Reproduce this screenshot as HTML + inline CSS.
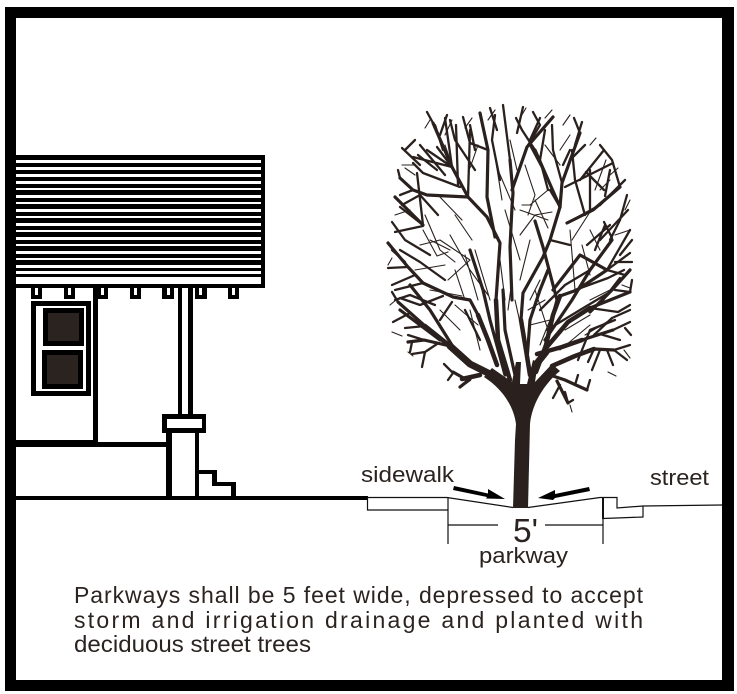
<!DOCTYPE html>
<html><head><meta charset="utf-8"><style>html,body{margin:0;padding:0;background:#fff}svg{display:block}text{font-family:"Liberation Sans",sans-serif;fill:#2a2320}</style></head>
<body>
<svg width="737" height="694" viewBox="0 0 737 694" xmlns="http://www.w3.org/2000/svg">
<rect width="737" height="694" fill="#fff"/>
<!-- house -->
<rect x="16" y="155" width="249" height="133" fill="#000"/>
<rect x="16" y="277" width="245" height="7" fill="#fff"/>
<g fill="#fff">
<rect x="16" y="160" width="245" height="3"/><rect x="16" y="167" width="245" height="3"/><rect x="16" y="174" width="245" height="3"/><rect x="16" y="181" width="245" height="3"/><rect x="16" y="188" width="245" height="2"/><rect x="16" y="195" width="245" height="3"/><rect x="16" y="202" width="245" height="2"/><rect x="16" y="209" width="245" height="3"/><rect x="16" y="216" width="245" height="2"/><rect x="16" y="223" width="245" height="3"/><rect x="16" y="230" width="245" height="2"/><rect x="16" y="237" width="245" height="3"/><rect x="16" y="244" width="245" height="2"/><rect x="16" y="251" width="245" height="3"/><rect x="16" y="258" width="245" height="2"/><rect x="16" y="265" width="245" height="3"/><rect x="16" y="271" width="245" height="3"/>
</g>
<g fill="#000">
<rect x="31" y="288" width="11" height="11"/><rect x="64" y="288" width="11" height="11"/><rect x="97" y="288" width="11" height="11"/><rect x="130" y="288" width="11" height="11"/><rect x="162" y="288" width="12" height="11"/><rect x="195" y="288" width="12" height="11"/><rect x="228" y="288" width="11" height="11"/>
<rect x="93" y="288" width="5" height="155"/>
<rect x="16" y="440" width="82" height="7"/><rect x="98" y="442" width="69" height="5"/>
<rect x="178" y="288" width="15" height="127"/>
<rect x="162" y="414" width="44" height="19"/>
<rect x="166" y="433" width="33" height="64"/>
<rect x="16" y="496" width="352" height="4"/>
<rect x="195" y="470" width="22" height="4"/><rect x="212" y="470" width="5" height="16"/><rect x="212" y="482" width="24" height="4"/><rect x="231" y="482" width="5" height="15"/>
<rect x="31" y="301" width="60" height="95"/>
</g>
<g fill="#fff">
<rect x="35" y="288" width="3" height="7"/><rect x="68" y="288" width="3" height="7"/><rect x="101" y="288" width="3" height="7"/><rect x="134" y="288" width="3" height="7"/><rect x="167" y="288" width="3" height="7"/><rect x="199" y="288" width="3" height="7"/><rect x="232" y="288" width="3" height="7"/>
<rect x="182" y="288" width="6" height="126"/>
<rect x="167" y="419" width="35" height="9"/>
<rect x="172" y="433" width="23" height="63"/>
<rect x="199" y="474" width="13" height="22"/><rect x="212" y="486" width="19" height="10"/>
<rect x="36" y="306" width="50" height="85"/>
</g>
<rect x="45.500" y="310.500" width="36" height="33" fill="#2b2320" stroke="#000" stroke-width="5"/>
<rect x="44.500" y="352.500" width="36" height="34" fill="#2b2320" stroke="#000" stroke-width="5"/>
<!-- ground -->
<g fill="none" stroke="#111" stroke-width="1.200">
<path d="M368 497.500H447L513 507.500"/>
<path d="M367.500 497V510H448"/>
<path d="M448 497V544"/>
<path d="M448 525H498M545 525H603"/>
<path d="M528 507.500L600 497.500H617V508L643 506L722 505"/>
<path d="M603 497V544"/>
<path d="M603 518.500L643 517V506"/>
</g>
<rect x="602" y="497" width="2" height="22" fill="#111"/>
<!-- arrows -->
<path d="M454 486L488 493.500L488 489L505 499L486 498.500L487 497L453 490Z" fill="#000"/>
<path d="M589 487L555 494L555 490L538 498L553 500L555 498L590 491Z" fill="#000"/>
<!-- tree -->
<path d="M513 508L515 440L516 424C514 408 504 390 484 377L492 368L512 382L516 362L521 362L520 384L527 384L533 360L538 362L535 382L552 364L560 371C544 384 532 404 530 424L528 508Z" fill="#2a211e"/>
<g fill="none" stroke="#2a211e" stroke-linecap="round" stroke-linejoin="round">
<g stroke-width="7">
<path d="M490 374L470 364L450 346"/>
<path d="M538 362L546 352"/>
</g>
<g stroke-width="4.500">
<path d="M450 346L425 326"/>
<path d="M510 380L498 340L496 300"/>
<path d="M530 375L526 350L521 320"/>
<path d="M536 372L546 345L553 315L560 296"/>
<path d="M537 354L562 347L582 340"/>
<path d="M497 365L488 340L478 315"/>
<path d="M552 366L575 356L594 349"/>
<path d="M480 375L462 379"/>
<path d="M546 348L568 322L590 308"/>
</g>
<g stroke-width="3.200">
<path d="M496 300L500 243L487 217L468 197L452 167"/>
<path d="M478 315L470 300L453 297L423 283"/>
<path d="M425 326L398 302"/>
<path d="M582 340L613 330"/>
<path d="M590 308L630 292"/>
<path d="M594 349L614 350"/>
<path d="M450 346L424 340L408 342"/>
<path d="M521 320L523 293L543 257L550 240L560 207"/>
<path d="M553 315L557 300L543 247L535 221"/>
<path d="M560 296L577 290L607 270"/>
<path d="M553 290L580 255L607 270"/>
<path d="M467 380L453 372M470 379L460 387"/>
<path d="M553 376L565 380L587 390"/>
<path d="M557 381L568 403"/>
<path d="M512 300L510 247L512 207L513 193L510 160"/>
<path d="M512 190L527 147L553 117"/>
<path d="M495 237L487 197L488 150L480 113"/>
<path d="M423 225L395 197"/>
<path d="M423 283L408 267L388 243"/>
<path d="M452 167L433 123"/>
<path d="M468 197L427 195L413 190L400 178"/>
<path d="M560 207L535 150"/>
<path d="M560 207L562 183L580 133"/>
<path d="M567 223L593 210L620 187"/>
<path d="M505 375L490 320L483 290L470 250"/>
<path d="M515 375L505 330L503 290"/>
<path d="M527 360L530 320L540 290L548 270"/>
<path d="M545 340L572 300L590 270L612 240"/>
<path d="M590 312L612 290L630 270"/>
<path d="M455 350L430 310L410 285"/>
<path d="M440 340L400 310"/>
</g>
<g stroke-width="2.300">
<path d="M460 187L423 173L413 163"/>
<path d="M452 167L413 157M452 167L427 150M452 167L437 147"/>
<path d="M510 160L503 105M517 133L523 107M527 147L540 125L533 112"/>
<path d="M470 143L463 117M488 150L470 143M475 150L470 125M497 130L490 108"/>
<path d="M423 226L395 232M423 225L400 207M417 173L423 225"/>
<path d="M408 267L388 268M415 275L392 285M423 283L395 290M405 262L392 250"/>
<path d="M443 296L420 305L400 298M398 302L392 292M410 313L393 322M425 326L405 328"/>
<path d="M424 340L408 335M437 344L425 352L422 367M425 352L412 354M412 342L410 352"/>
<path d="M452 372L444 364M453 373L448 380M460 387L470 380"/>
<path d="M587 390L590 380M575 385L578 375M568 403L565 392M568 403L573 400M560 385L553 398"/>
<path d="M594 349L588 362M600 350L592 370M607 350L613 365M614 350L627 360M614 350L630 345"/>
<path d="M613 330L630 322M600 334L620 340M625 328L631 335M594 335L612 318L630 310"/>
<path d="M590 308L618 312L630 305M630 292L615 290M630 292L632 280M600 304L620 278"/>
<path d="M607 270L625 275M615 262L632 262M607 270L630 230M620 255L632 240M607 270L630 253"/>
<path d="M610 240L620 220L627 195M612 238L604 222M595 250L605 225M587 245L610 225"/>
<path d="M620 187L612 160M605 196L610 170M590 212L590 170M604 190L586 172M612 160L600 145"/>
<path d="M580 133L574 118M575 145L582 122M562 183L553 150L552 125M547 177L530 145"/>
<path d="M535 150L522 130L516 118M530 140L540 118M563 165L570 150M570 160L585 145"/>
<path d="M433 123L427 112M440 135L447 115M443 150L435 125M452 167L445 118M458 185L456 125M468 197L470 130"/>
<path d="M565 187L613 163M580 180L604 150"/>
<path d="M405 150L415 140M420 165L402 148M437 170L418 155M400 178L398 170M413 190L400 195"/>
<path d="M575 290L608 278L624 270M540 310L565 285L590 270M547 330L580 310L610 292"/>
<path d="M560 207L550 190M573 220L600 205M550 240L570 245"/>
<path d="M578 360L590 330L615 320M480 340L465 310M440 320L452 302"/>
<path d="M600 240L628 210M585 215L575 180L572 150M600 205L625 180M548 190L540 160L545 130M500 180L492 140L495 115M475 170L455 140L450 120M445 175L420 145M438 215L420 195L402 205M430 255L405 240L392 222M445 280L420 262L400 250M435 305L410 295L395 300"/>
</g>
<g stroke-width="1.100">
<path d="M423 230L437 256L448 252M430 240L450 250M440 240L470 260L448 280M415 270L445 265M420 245L440 240"/>
<path d="M425 215L440 250L455 262M450 235L470 270L488 295M430 290L462 296M465 255L478 300"/>
<path d="M498 170L515 210M494 150L502 200M510 140L517 170M520 210L548 220M525 165L535 195L528 215M535 200L548 228"/>
<path d="M520 235L535 215L552 212M522 205L532 205M530 205L548 190M600 190L610 180M590 212L572 240"/>
<path d="M570 230L575 290M582 245L590 275M548 265L555 295M535 290L548 330M512 280L508 310M470 310L480 350M440 310L460 330M455 305L478 325"/>
<path d="M528 310L545 300M530 325L550 320L540 345M565 330L590 315M585 335L610 320M560 350L590 325"/>
<path d="M410 210L395 215M402 165L414 165M415 175L405 168M425 128L430 120M445 135L452 120M465 128L472 118M488 120L495 110M520 118L526 108M545 118L552 110M563 125L570 115M590 145L596 138M610 175L618 168M625 210L630 200M615 235L630 230M622 285L630 288M624 350L630 358M608 372L616 376M570 405L572 412M392 258L388 265M396 300L390 305M402 336L392 332M413 356L408 352"/>
<path d="M478 145L470 168M445 145L452 165M438 195L462 220M455 215L472 240M560 165L545 145M560 150L570 135M595 190L606 160"/>
<path d="M505 210L520 260M530 240L520 280M500 260L505 300M475 250L490 300M455 270L465 300M590 230L600 250M610 290L590 300M515 300L525 345M540 280L530 300"/>
</g>
</g>
<!-- labels -->
<text x="361" y="482" font-size="22" textLength="93" lengthAdjust="spacingAndGlyphs">sidewalk</text>
<text x="650" y="485" font-size="22" textLength="59" lengthAdjust="spacingAndGlyphs">street</text>
<text x="479" y="563" font-size="22" textLength="89" lengthAdjust="spacingAndGlyphs">parkway</text>
<text x="513" y="542" font-size="33" textLength="25" lengthAdjust="spacingAndGlyphs">5'</text>
<text x="74" y="603" font-size="23" textLength="569" lengthAdjust="spacing">Parkways shall be 5 feet wide, depressed to accept</text>
<text x="74" y="628" font-size="23" textLength="569" lengthAdjust="spacing">storm and irrigation drainage and planted with</text>
<text x="74" y="652" font-size="23" textLength="237" lengthAdjust="spacingAndGlyphs">deciduous street trees</text>
<!-- frame -->
<path fill="#000" fill-rule="evenodd" d="M5 7H734V691H5ZM16 18V680H722V18Z"/>
</svg>
</body></html>
